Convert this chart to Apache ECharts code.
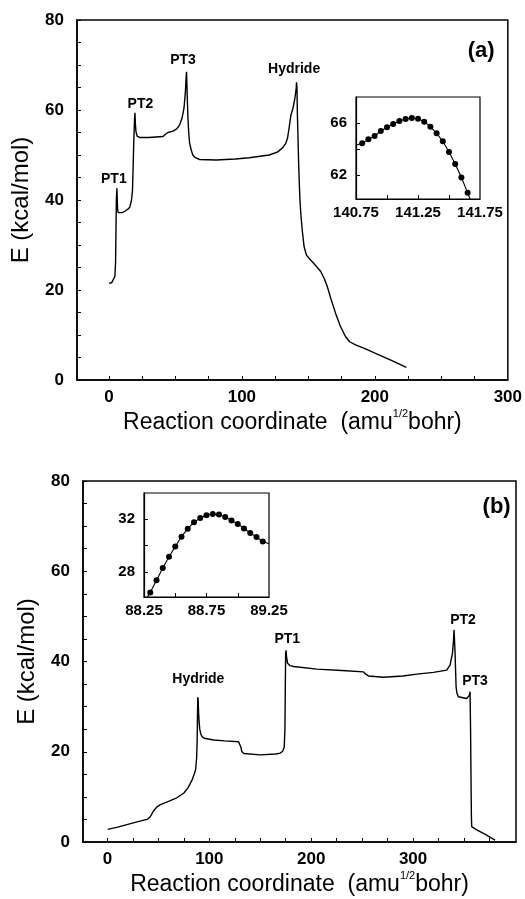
<!DOCTYPE html>
<html>
<head>
<meta charset="utf-8">
<script src="https://cdn.jsdelivr.net/npm/echarts@6/dist/echarts.min.js"></script>
<style>
html,body{margin:0;padding:0;background:#fff;}
#c{width:525px;height:899px;}
</style>
</head>
<body>
<div id="c"></div>
<script>
// ---------- DATA ----------
// Panel (a) main curve [reaction coordinate, E]
var curveA = [
  [0.2,21.5],[2,21.6],[3.5,22.0],[4.5,23],[5.0,26],[5.3,33],[5.6,40],[6.0,42.6],[6.3,40],[6.5,38],
  [7.0,37.2],[8,37.0],[10,37.2],[12,37.5],[14,37.9],[15.7,38.4],[17,40],[17.7,42],[18.2,47],[18.7,53],
  [19.3,58],[19.6,59.4],[19.9,57],[20.3,55.3],[21.2,54.2],[23,53.9],[30,53.9],[40.7,54.1],[42.5,54.6],
  [44.4,55.0],[48.2,55.3],[51,55.8],[53.2,56.7],[55,58.2],[56.5,60.5],[57.5,64],[58.1,67.5],[58.4,68.5],
  [58.8,64],[59.4,58.5],[60.0,55],[60.7,52.6],[62,51],[63.1,50.0],[65,49.4],[68.2,49.0],[80.7,48.9],
  [95,49.1],[105.6,49.4],[120.6,50.0],[127,50.7],[130.6,51.6],[133,52.6],[134.3,53.7],[135.5,56],
  [136.9,58.9],[138.5,60.5],[139.8,62.5],[140.5,64.0],[140.8,64.44],[140.9,65.0],[141.0,65.67],
  [141.1,66.15],[141.2,66.38],[141.3,66.1],[141.4,65.21],[141.5,63.77],[141.6,61.8],[141.75,59],
  [142.2,54],[142.7,48],[143.1,44.4],[143.6,40.5],[144.3,37],[145.5,33],[146.8,29.6],[148.5,27.8],
  [150.6,27],[155,25.6],[159.3,24.1],[162,22.5],[164.3,20.7],[167,18],[170.5,14.8],[174,12],[178,9.6],
  [181,8.5],[185.5,7.8],[193,6.9],[200.5,5.9],[212,4.4],[223.7,2.8]
];
// Panel (a) inset: computed points near the hydride TS
var insetA_x = [140.80,140.85,140.90,140.95,141.00,141.05,141.10,141.15,141.20,141.25,141.30,141.35,141.40,141.45,141.50,141.55,141.60,141.65];
var insetA_y = [64.44,64.74,65.00,65.38,65.67,65.92,66.15,66.31,66.38,66.33,66.10,65.72,65.21,64.59,63.77,62.85,61.80,60.64];
var insetA_lineEnds = [[140.75,64.28],[141.70,59.4]];

// Panel (b) main curve
var curveB = [
  [0.3,2.8],[10,3.3],[20,3.9],[30,4.5],[38.9,5.0],[42,5.6],[45,6.8],[48.7,7.8],[52,8.3],[60,9.0],[68,9.8],
  [74.8,10.8],[79,12],[83,13.7],[85.5,15.3],[86.5,16],[87.5,18.5],[88,22],[88.3,26.45],[88.4,28.31],
  [88.5,29.94],[88.6,31.29],[88.7,32.1],[88.8,32.41],[88.9,32.18],[89.0,31.64],[89.1,30.96],[89.2,30.32],
  [89.5,28.5],[90,26.5],[90.6,25],[91.5,24.0],[93,23.3],[95,23.0],[104.2,22.6],[115,22.4],[128.7,22.2],
  [130,22.0],[131,21],[132,20.0],[134,19.6],[150,19.3],[165,19.5],[169.6,19.7],[172,20.1],[173.5,21],
  [174.2,25],[174.6,35],[174.9,41.8],[175.3,42.5],[175.8,41],[176.8,39.6],[179,39.1],[182.7,38.9],
  [205.6,38.3],[230,38.0],[251.3,37.7],[253.5,37.2],[256.2,36.8],[270.9,36.5],[290,36.8],[303.6,37.2],
  [320,37.6],[333,38.1],[336.3,39.2],[338.6,41.8],[339.6,44.5],[340.2,47],[340.8,44],[341.2,41.8],
  [341.7,38],[342.2,34.4],[343,33],[344.4,32.2],[352.6,31.8],[355.2,32.5],[355.9,33.3],[356.4,25],
  [356.8,15],[357.2,6],[357.5,3.4],[359,3.0],[362.4,2.7],[370,1.8],[380.4,0.4]
];
// Panel (b) inset
var insetB_x = [88.30,88.35,88.40,88.45,88.50,88.55,88.60,88.65,88.70,88.75,88.80,88.85,88.90,88.95,89.00,89.05,89.10,89.15,89.20];
var insetB_y = [26.45,27.37,28.31,29.15,29.94,30.68,31.29,31.77,32.10,32.31,32.41,32.36,32.18,31.92,31.64,31.31,30.96,30.65,30.32];
var insetB_lineEnds = [[88.27,26.0],[89.25,30.15]];

// Tick values
var mainYLabels = [0,20,40,60,80];
var mainYTicks = [0,5,10,15,20,25,30,35,40,45,50,55,60,65,70,75,80];
var mainXLabelsA = [0,100,200,300];
var mainXTicksA = [0,25,50,75,100,125,150,175,200,225,250,275];
var mainXLabelsB = [0,100,200,300];
var mainXTicksB = [0,25,50,75,100,125,150,175,200,225,250,275,300,325,350,375];
var insetAXLabels = [140.75,141.25,141.75];
var insetAXTicks = [141.0,141.25,141.5];
var insetAYLabels = [62,66];
var insetAYTicks = [62,64,66];
var insetBXLabels = [88.25,88.75,89.25];
var insetBXTicks = [88.5,88.75,89.0];
var insetBYLabels = [28,32];
var insetBYTicks = [28,30,32];

// Annotations [text, x, y]
var notesA = [['PT1',3.7,44.7],['PT2',23.7,61.3],['PT3',55.7,71.0],['Hydride',139.3,69.1]];
var notesB = [['Hydride',89.2,36.1],['PT1',176.5,45.0],['PT2',349,49.2],['PT3',360.8,35.7]];
var panelA = [['(a)',280,73.2]];
var panelB = [['(b)',382,74.2]];

// ---------- CHART ----------
var FONT = 'Liberation Sans, Arial, Helvetica, sans-serif';
function pairs(xs, ys){ var o=[]; for(var i=0;i<xs.length;i++) o.push([xs[i],ys[i]]); return o; }
function lineWithEnds(ends, xs, ys){ return [ends[0]].concat(pairs(xs,ys)).concat([ends[1]]); }

function mainX(idx, min, max, labels, ticks){
  return {
    type:'value', gridIndex:idx, min:min, max:max,
    axisLine:{show:true, onZero:false, lineStyle:{color:'#000', width:1.5}},
    axisTick:{show:true, inside:true, length:4, customValues:ticks, lineStyle:{color:'#000', width:1}},
    axisLabel:{customValues:labels, color:'#000', fontFamily:FONT, fontWeight:'bold', fontSize:17, margin:9},
    splitLine:{show:false},
    name:'{n|Reaction coordinate  (amu}{s|1/2}{n|bohr)}',
    nameLocation:'middle', nameGap:28,
    nameTextStyle:{rich:{
      n:{fontFamily:FONT, fontSize:23, color:'#000', lineHeight:26, verticalAlign:'bottom'},
      s:{fontFamily:FONT, fontSize:11, color:'#000', lineHeight:26, verticalAlign:'top', padding:[0,0,10,0]}
    }}
  };
}
function mainY(idx){
  return {
    type:'value', gridIndex:idx, min:0, max:80,
    axisLine:{show:true, onZero:false, lineStyle:{color:'#000', width:1.5}},
    axisTick:{show:true, inside:true, length:4, customValues:mainYTicks, lineStyle:{color:'#000', width:1}},
    axisLabel:{customValues:mainYLabels, color:'#000', fontFamily:FONT, fontWeight:'bold', fontSize:17, margin:13},
    splitLine:{show:false},
    name:'E (kcal/mol)', nameLocation:'middle', nameRotate:90, nameGap:44,
    nameTextStyle:{fontFamily:FONT, fontSize:24, color:'#000'}
  };
}
function insetX(idx, min, max, labels, ticks){
  return {
    type:'value', gridIndex:idx, min:min, max:max,
    axisLine:{show:true, onZero:false, lineStyle:{color:'#000', width:1.2}},
    axisTick:{show:true, inside:true, length:4, customValues:ticks, lineStyle:{color:'#000', width:1}},
    axisLabel:{customValues:labels, color:'#000', fontFamily:FONT, fontWeight:'bold', fontSize:15, margin:6,
      formatter:function(v){return v.toFixed(2);}},
    splitLine:{show:false}
  };
}
function insetY(idx, min, max, labels, ticks){
  return {
    type:'value', gridIndex:idx, min:min, max:max,
    axisLine:{show:true, onZero:false, lineStyle:{color:'#000', width:1.2}},
    axisTick:{show:true, inside:true, length:4, customValues:ticks, lineStyle:{color:'#000', width:1}},
    axisLabel:{customValues:labels, color:'#000', fontFamily:FONT, fontWeight:'bold', fontSize:15, margin:9},
    splitLine:{show:false}
  };
}
function noteSeries(xi, yi, notes, size){
  return {
    type:'scatter', xAxisIndex:xi, yAxisIndex:yi, symbolSize:0, silent:true,
    data: notes.map(function(n){ return {value:[n[1],n[2]], name:n[0]}; }),
    itemStyle:{opacity:1},
    label:{show:true, position:'inside', formatter:'{b}', color:'#000', opacity:1, fontFamily:FONT, fontWeight:'bold', fontSize:size},
    z:10
  };
}
function curve(xi, yi, data, w){
  return {type:'line', xAxisIndex:xi, yAxisIndex:yi, data:data, showSymbol:false, symbol:'none',
    lineStyle:{color:'#000', width:w, opacity:1}, clip:true, z:8};
}
function dots(xi, yi, xs, ys){
  return {type:'scatter', xAxisIndex:xi, yAxisIndex:yi, data:pairs(xs,ys), symbol:'circle', symbolSize:6,
    itemStyle:{color:'#000', opacity:1}, clip:true, z:9};
}

var chart = echarts.init(document.getElementById('c'), null, {renderer:'canvas'});
chart.setOption({
  animation:false,
  backgroundColor:'#fff',
  grid:[
    {left:77, top:20, width:433, height:360, show:true, borderColor:'#000', borderWidth:1.5, backgroundColor:'transparent'},
    {left:356, top:97, width:124, height:102, show:true, borderColor:'#000', borderWidth:1.2, backgroundColor:'transparent'},
    {left:83, top:481, width:433, height:361, show:true, borderColor:'#000', borderWidth:1.5, backgroundColor:'transparent'},
    {left:144, top:493, width:125, height:104, show:true, borderColor:'#000', borderWidth:1.2, backgroundColor:'transparent'}
  ],
  xAxis:[
    mainX(0, -24, 300, mainXLabelsA, mainXTicksA),
    insetX(1, 140.75, 141.75, insetAXLabels, insetAXTicks),
    mainX(2, -24, 401, mainXLabelsB, mainXTicksB),
    insetX(3, 88.25, 89.25, insetBXLabels, insetBXTicks)
  ],
  yAxis:[
    mainY(0),
    insetY(1, 60.15, 68, insetAYLabels, insetAYTicks),
    mainY(2),
    insetY(3, 26.1, 34, insetBYLabels, insetBYTicks)
  ],
  series:[
    curve(0,0,curveA,1.4),
    curve(1,1,lineWithEnds(insetA_lineEnds, insetA_x, insetA_y),1.1),
    dots(1,1,insetA_x,insetA_y),
    curve(2,2,curveB,1.4),
    curve(3,3,lineWithEnds(insetB_lineEnds, insetB_x, insetB_y),1.1),
    dots(3,3,insetB_x,insetB_y),
    noteSeries(0,0,notesA,14),
    noteSeries(0,0,panelA,22),
    noteSeries(2,2,notesB,14),
    noteSeries(2,2,panelB,22)
  ]
});
</script>
</body>
</html>
